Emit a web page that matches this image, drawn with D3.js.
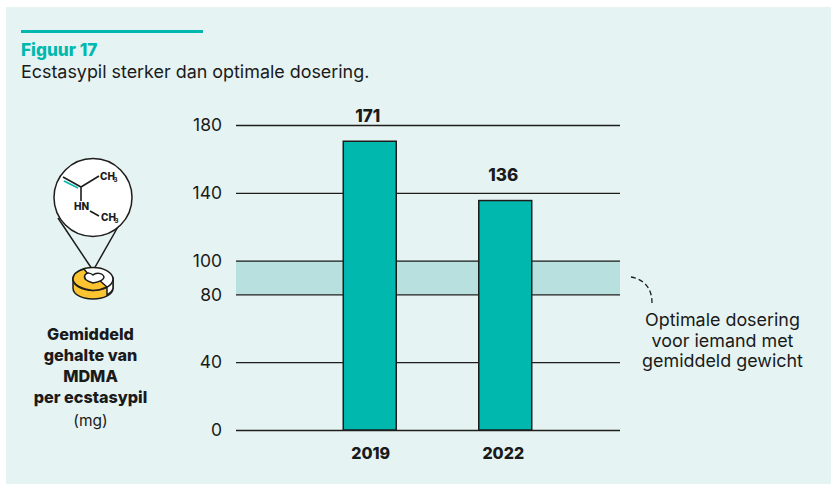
<!DOCTYPE html>
<html>
<head>
<meta charset="utf-8">
<script src="https://cdn.jsdelivr.net/npm/d3@7"></script>
<style>
html, body { margin: 0; padding: 0; background: #fff; }
text { font-family: Inter, sans-serif; fill: #1a1a1a; }
</style>
</head>
<body>
<div id="app"></div>
<script>
// DATA
const years = ['2019', '2022'];
const values = [171, 136];
const ticks = [0, 40, 80, 100, 140, 180];
const optimal = [80, 100];
const axisTitle = ['Gemiddeld', 'gehalte van', 'MDMA', 'per ecstasypil'];
const noteLines = ['Optimale dosering', 'voor iemand met', 'gemiddeld gewicht'];

const width = 831, height = 486;
const teal = '#00b8ae', ink = '#1d1d1b';

const svg = d3.select('#app').append('svg')
	.attr('width', width)
	.attr('height', height)
	.style('display', 'block');

// panel
svg.append('rect')
	.attr('x', 6).attr('y', 7)
	.attr('width', 825).attr('height', 477)
	.attr('fill', '#e5f3f3');

// header
svg.append('rect')
	.attr('x', 21).attr('y', 30)
	.attr('width', 182).attr('height', 3)
	.attr('fill', teal);
svg.append('text')
	.attr('x', 21).attr('y', 56)
	.style('font-size', '17.2px').style('font-weight', 800)
	.style('fill', teal)
	.text('Figuur 17');
svg.append('text')
	.attr('x', 21).attr('y', 78)
	.style('font-size', '17.9px')
	.text('Ecstasypil sterker dan optimale dosering.');

// scales
const y = d3.scaleLinear().domain([0, 180]).range([430, 125]);
const x = d3.scaleBand().domain(years).range([302, 573])
	.paddingInner(0.609).paddingOuter(0.3045);

// optimal band
svg.append('rect')
	.attr('x', 236).attr('width', 384)
	.attr('y', y(optimal[1]))
	.attr('height', y(optimal[0]) - y(optimal[1]))
	.attr('fill', '#b8e0de');

// y axis
const axis = svg.append('g')
	.attr('transform', 'translate(236,0)')
	.call(d3.axisLeft(y).tickValues(ticks).tickSize(-384).tickPadding(14).tickFormat(d3.format('d')));
axis.select('.domain').remove();
axis.selectAll('line').attr('stroke', ink).attr('stroke-width', 1.3);
axis.selectAll('text')
	.style('font-size', '17.5px')
	.style('font-family', 'Inter, sans-serif')
	.attr('fill', ink);

// bars
svg.selectAll('.bar')
	.data(values)
	.enter()
	.append('rect')
		.attr('class', 'bar')
		.attr('x', (d, i) => x(years[i]))
		.attr('width', x.bandwidth())
		.attr('y', d => y(d) + 1)
		.attr('height', d => y(0) - y(d) - 1)
		.attr('fill', teal)
		.attr('stroke', ink)
		.attr('stroke-width', 1.5);

// value labels
svg.selectAll('.val')
	.data(values)
	.enter()
	.append('text')
		.attr('class', 'val')
		.attr('x', (d, i) => x(years[i]) + x.bandwidth() / 2 - 2)
		.attr('y', d => y(d) - 18.5)
		.attr('text-anchor', 'middle')
		.style('font-size', '17px').style('font-weight', 800)
		.text(d => d);

// year labels
svg.selectAll('.year')
	.data(years)
	.enter()
	.append('text')
		.attr('class', 'year')
		.attr('x', (d, i) => x(d) + x.bandwidth() / 2 + (i ? -2 : 1))
		.attr('y', 459)
		.attr('text-anchor', 'middle')
		.style('font-size', '16px').style('font-weight', 800)
		.text(d => d);

// left title
svg.selectAll('.title')
	.data(axisTitle)
	.enter()
	.append('text')
		.attr('class', 'title')
		.attr('x', 90.5)
		.attr('y', (d, i) => 339.5 + i * 21.2)
		.attr('text-anchor', 'middle')
		.style('font-size', '16.2px').style('font-weight', 800)
		.text(d => d);
svg.append('text')
	.attr('x', 90.5).attr('y', 425.5)
	.attr('text-anchor', 'middle')
	.style('font-size', '15.5px')
	.text('(mg)');

// note
svg.selectAll('.note')
	.data(noteLines)
	.enter()
	.append('text')
		.attr('class', 'note')
		.attr('x', 722.5)
		.attr('y', (d, i) => 326 + i * 20.5)
		.attr('text-anchor', 'middle')
		.style('font-size', '17.9px')
		.text(d => d);
svg.append('path')
	.attr('d', 'M631,277 C642,279 652,286 652,303')
	.attr('fill', 'none')
	.attr('stroke', ink)
	.attr('stroke-width', 1.3)
	.attr('stroke-dasharray', '5 3');

// pill icon
const icon = svg.append('g').attr('fill', 'none').attr('stroke', ink).attr('stroke-width', 1.5);
icon.append('path').attr('d', 'M58,218 L92,269 M123,218 L94,269');
icon.append('circle').attr('cx', 93).attr('cy', 197.5).attr('r', 39).attr('fill', '#fff');

// pill body
icon.append('path')
	.attr('d', 'M73,279 L73,288 C73,295 83,299 93,299 C103,299 113,295 113,288 L113,279 Z')
	.attr('fill', '#fdc431');
icon.append('path')
	.attr('d', 'M107,287 L107,295 C110,293 113,291 113,288 L113,279 Z')
	.attr('fill', '#fff');
icon.append('ellipse')
	.attr('cx', 93).attr('cy', 279).attr('rx', 20).attr('ry', 11.5)
	.attr('fill', '#fff');
icon.append('path')
	.attr('d', 'M84,269 C77,271 73,275 73,279 C73,285 82,289 93,290.5 C98,290.5 103,289 107,287 L98,279 L88,274 Z')
	.attr('fill', '#fdc431').attr('stroke-linejoin', 'round');
icon.append('path')
	.attr('d', 'M93,283 C87,281 83,279 85,275 C87,272 91,273 93,275 C96,272 103,273 104,277 C104,280 98,282 93,283 Z')
	.attr('fill', '#fff');

// molecule
icon.append('path').attr('d', 'M63,177 L81,187 L99,176 M81,187 L81,201 M90,211 L99,216').attr('stroke-width', 1.6);
icon.append('path').attr('d', 'M64,181 L78,188').attr('stroke', teal).attr('stroke-width', 1.6);
const mol = [['CH', 100, 179.5], ['HN', 74, 210], ['CH', 101, 220.8]];
svg.selectAll('.mol')
	.data(mol)
	.enter()
	.append('text')
		.attr('class', 'mol')
		.attr('x', d => d[1])
		.attr('y', d => d[2])
		.style('font-size', '10px').style('font-weight', 800)
		.text(d => d[0]);
svg.selectAll('.sub')
	.data([[113.5, 182], [114.5, 223]])
	.enter()
	.append('text')
		.attr('class', 'sub')
		.attr('x', d => d[0])
		.attr('y', d => d[1])
		.style('font-size', '6px').style('font-weight', 800)
		.text('3');
</script>
</body>
</html>
